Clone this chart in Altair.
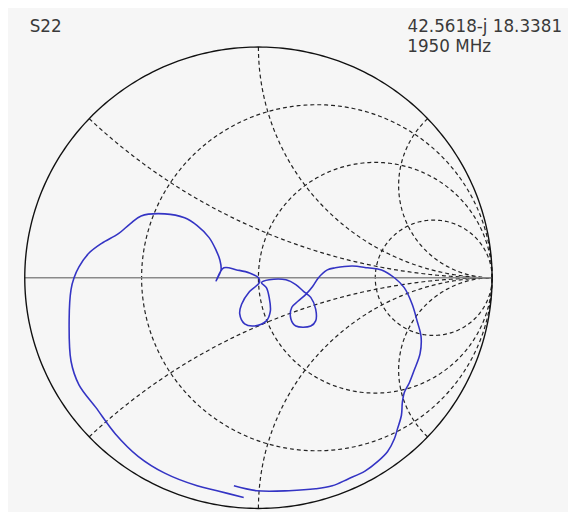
import altair as alt
import numpy as np
import pandas as pd

# ---- chart values -------------------------------------------------------
resistances = [1 / 3, 1.0, 3.0]            # constant-resistance circles (dashed)
reactances = [0.4, 1.0, 2.5, -0.4, -1.0, -2.5]  # constant-reactance arcs (dashed)

trace_re = [-0.063, -0.177, -0.262, -0.401, -0.515, -0.612, -0.696, -0.768, -0.802, -0.810,
            -0.802, -0.789, -0.768, -0.726, -0.671, -0.599, -0.549, -0.502, -0.401, -0.316,
            -0.262, -0.211, -0.181, -0.165, -0.160, -0.181, -0.148, -0.093, -0.038, 0.000,
            0.004, -0.038, -0.072, -0.080, -0.059, -0.017, 0.034, 0.051, 0.046, 0.034,
            0.013, 0.046, 0.118, 0.160, 0.194, 0.224, 0.245, 0.245, 0.224, 0.160,
            0.139, 0.143, 0.169, 0.203, 0.232, 0.257, 0.295, 0.329, 0.401, 0.468,
            0.527, 0.582, 0.624, 0.658, 0.679, 0.696, 0.692, 0.667, 0.646, 0.624,
            0.616, 0.612, 0.595, 0.582, 0.553, 0.511, 0.456, 0.384, 0.316, 0.245,
            0.131, -0.008, -0.105]
trace_im = [-0.953, -0.923, -0.902, -0.847, -0.774, -0.677, -0.562, -0.464, -0.362, -0.179,
            -0.051, 0.000, 0.047, 0.106, 0.149, 0.191, 0.234, 0.268, 0.277, 0.260,
            0.226, 0.174, 0.119, 0.077, 0.034, -0.013, 0.043, 0.034, 0.021, 0.000,
            -0.021, -0.060, -0.115, -0.157, -0.200, -0.209, -0.187, -0.145, -0.085, -0.043,
            -0.021, -0.009, -0.009, -0.030, -0.060, -0.085, -0.136, -0.187, -0.209, -0.209,
            -0.179, -0.128, -0.102, -0.072, -0.038, 0.000, 0.034, 0.043, 0.051, 0.043,
            0.034, 0.000, -0.043, -0.115, -0.187, -0.255, -0.328, -0.400, -0.455, -0.498,
            -0.540, -0.596, -0.655, -0.698, -0.753, -0.796, -0.838, -0.872, -0.902, -0.915,
            -0.923, -0.923, -0.902]

title_text = "S22"
marker_value = "42.5618-j 18.3381"
marker_freq = "1950 MHz"

# ---- build tables ------------------------------------------------------
rows = []
theta = np.linspace(0, 2 * np.pi, 361)
for k, r in enumerate(resistances):
    cx, rad = r / (1 + r), 1 / (1 + r)
    for i, t in enumerate(theta):
        rows.append({"curve": f"r{k}", "i": i,
                     "gx": cx + rad * np.cos(t), "gy": rad * np.sin(t)})
rr = np.concatenate([[0.0], np.logspace(-3, 3.5, 400)])
for k, xv in enumerate(reactances):
    g = (rr + 1j * xv - 1) / (rr + 1j * xv + 1)
    for i, gv in enumerate(g):
        rows.append({"curve": f"x{k}", "i": i, "gx": gv.real, "gy": gv.imag})
grid_df = pd.DataFrame(rows)

outer_df = pd.DataFrame({"i": range(len(theta)),
                         "gx": np.cos(theta), "gy": np.sin(theta)})
axis_df = pd.DataFrame({"i": [0, 1], "gx": [-1.0, 1.0], "gy": [0.0, 0.0]})
trace_df = pd.DataFrame({"i": range(len(trace_re)), "gx": trace_re, "gy": trace_im})

W, H = 474, 468
xs = alt.Scale(domain=[-1, 1], nice=False, zero=False)
ys = alt.Scale(domain=[-1, 1], nice=False, zero=False)
X = alt.X("gx:Q", scale=xs, axis=None)
Y = alt.Y("gy:Q", scale=ys, axis=None)

grid = alt.Chart(grid_df).mark_line(
    color="#222222", strokeWidth=1.2, strokeDash=[4, 3]
).encode(x=X, y=Y, detail="curve:N", order="i:Q")

axis_line = alt.Chart(axis_df).mark_line(color="#8a8a8a", strokeWidth=1.3).encode(
    x=X, y=Y, order="i:Q")

outer = alt.Chart(outer_df).mark_line(color="#111111", strokeWidth=1.4).encode(
    x=X, y=Y, order="i:Q")

trace = alt.Chart(trace_df).mark_line(color="#3434c4", strokeWidth=1.6,
                                      interpolate="catmull-rom").encode(
    x=X, y=Y, order="i:Q")

font = "DejaVu Sans"
t1 = alt.Chart(pd.DataFrame({"t": [title_text]})).mark_text(
    align="left", baseline="alphabetic", font=font, fontSize=17, color="#3a3a3a"
).encode(x=alt.value(5), y=alt.value(-15), text="t:N")
t2 = alt.Chart(pd.DataFrame({"t": [marker_value]})).mark_text(
    align="right", baseline="alphabetic", font=font, fontSize=17, color="#3a3a3a"
).encode(x=alt.value(545), y=alt.value(-15), text="t:N")
t3 = alt.Chart(pd.DataFrame({"t": [marker_freq]})).mark_text(
    align="left", baseline="alphabetic", font=font, fontSize=17, color="#3a3a3a"
).encode(x=alt.value(388), y=alt.value(5), text="t:N")

chart = alt.layer(grid, axis_line, outer, trace, t1, t2, t3).properties(
    width=W, height=H,
    autosize=alt.AutoSizeParams(type="none"),
    padding={"left": 17, "top": 36, "right": 77, "bottom": 0},
    background="#f6f6f6",
).configure_view(stroke=None)

chart.save("out.html", embed_options={"renderer": "svg", "actions": False})
